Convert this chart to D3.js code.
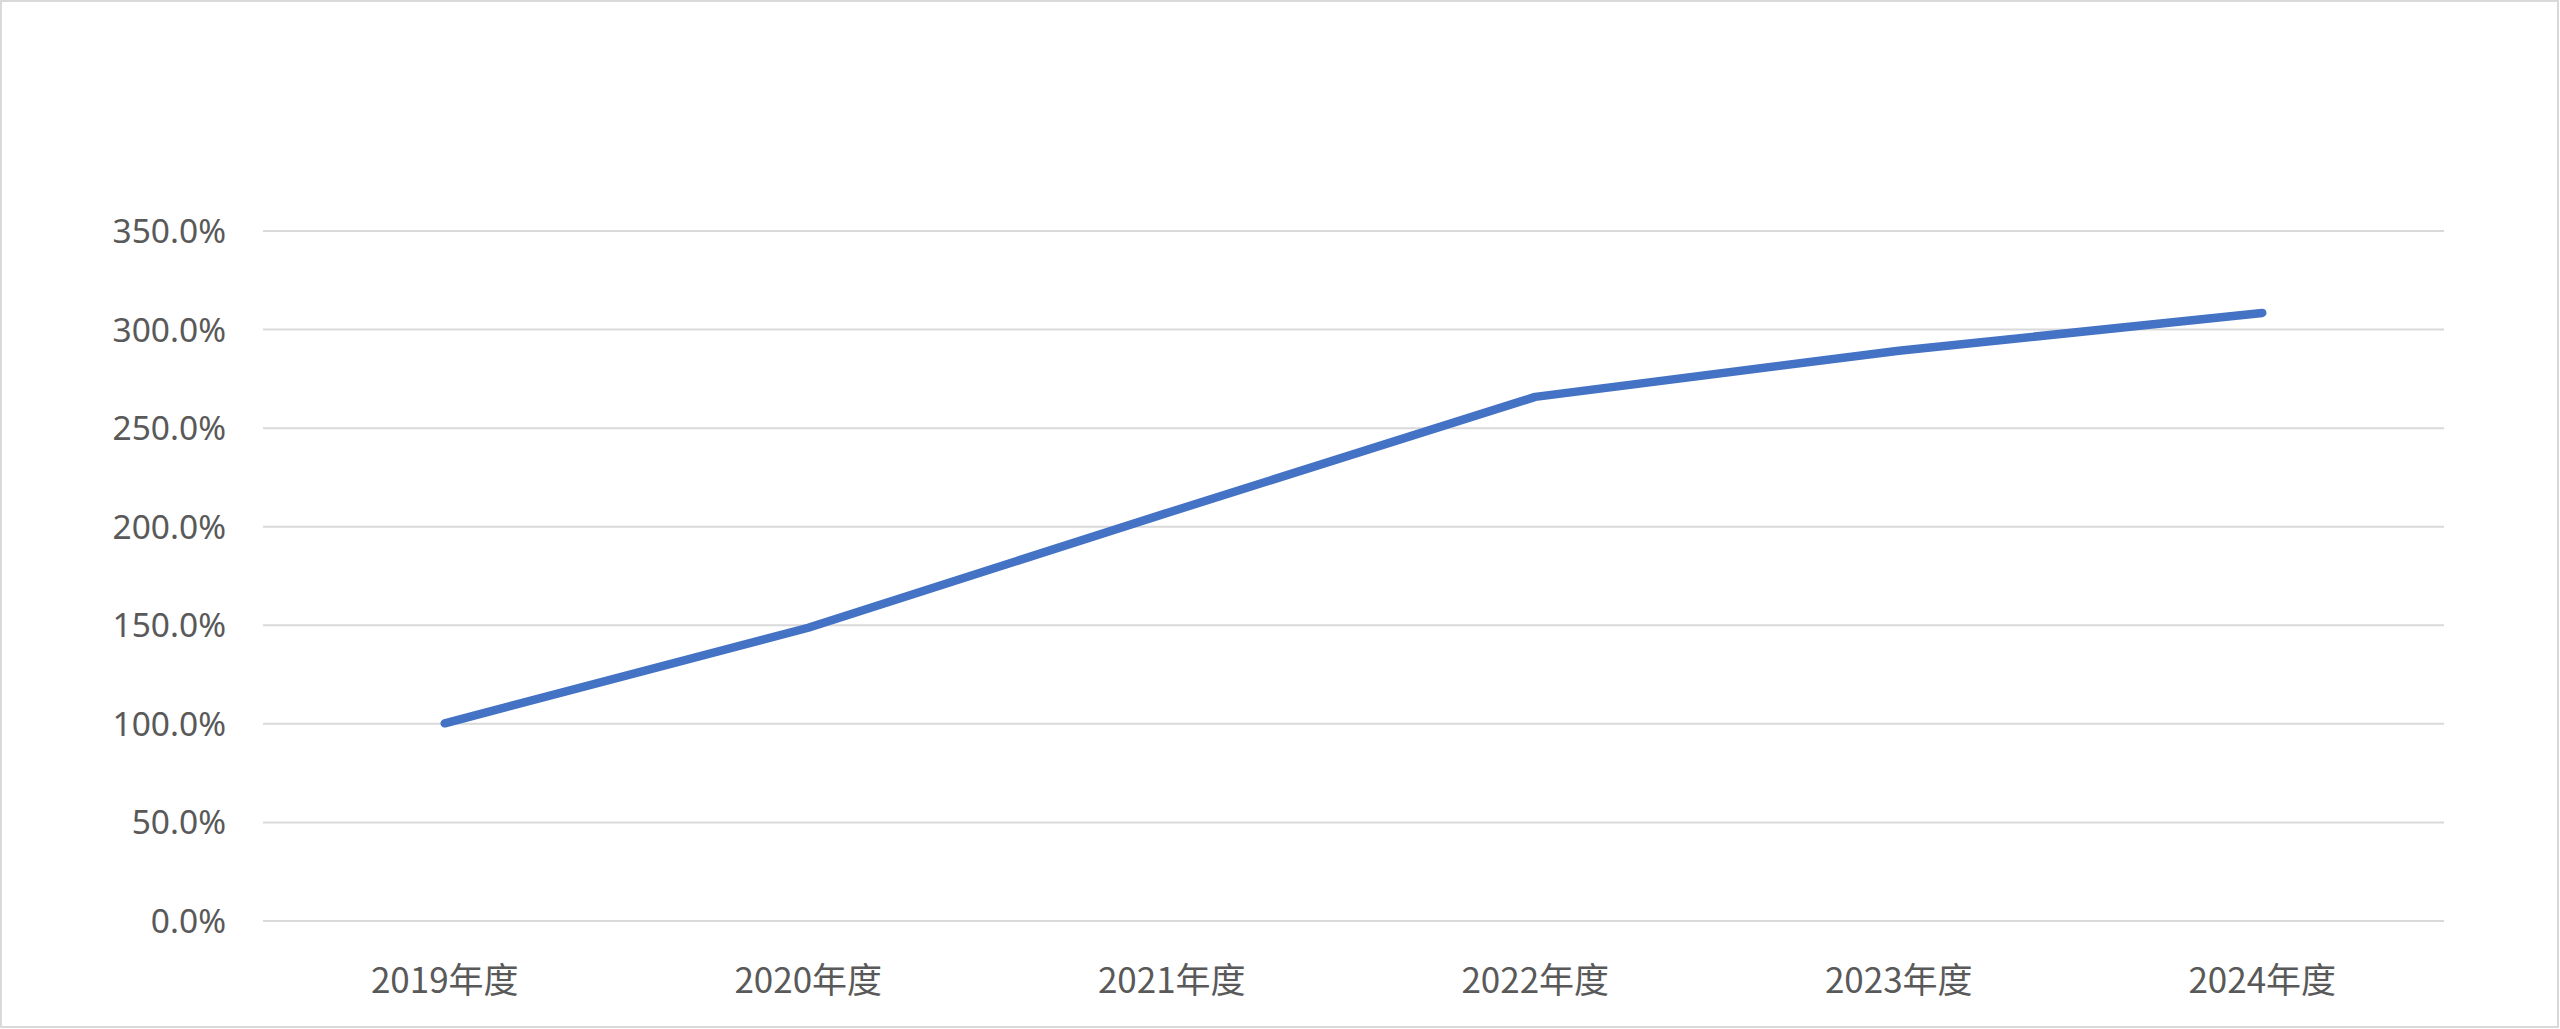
<!DOCTYPE html>
<html><head><meta charset="utf-8">
<script src="https://cdn.jsdelivr.net/npm/d3@7"></script>
<style>
html,body{margin:0;padding:0;background:#fff;overflow:hidden;}
</style></head>
<body>
<svg id="chart" width="2560" height="1029"></svg>
<script>
const categories = ["2019年度","2020年度","2021年度","2022年度","2023年度","2024年度"];
const values = [100.0, 148.5, 207.5, 265.6, 289.0, 308.2];
const yTicks = [0, 50, 100, 150, 200, 250, 300, 350];

const W = 2560, H = 1029;
const svg = d3.select("#chart");
const plot = {left: 263, right: 2444, top: 230.5, bottom: 920.5};

svg.append("rect").attr("x",1).attr("y",1).attr("width",W-3).attr("height",H-3)
  .attr("fill","#fff").attr("stroke","#d9d9d9").attr("stroke-width",2);

const x = d3.scaleBand().domain(categories).range([plot.left, plot.right]).padding(0);
const y = d3.scaleLinear().domain([0,350]).range([plot.bottom, plot.top]);

const yAxis = d3.axisLeft(y).tickValues(yTicks).tickSize(-(plot.right-plot.left))
  .tickFormat(d => d3.format(".1f")(d) + "%").tickPadding(37);
const gy = svg.append("g").attr("transform",`translate(${plot.left},0)`).call(yAxis);
gy.select(".domain").remove();
gy.selectAll(".tick line").attr("stroke","#d9d9d9").attr("stroke-width",2);
gy.selectAll(".tick text").attr("fill","#595959")
  .style("font-family","'Noto Sans', sans-serif").style("font-size","33.5px")
  .attr("dy","0.36em");

const xAxis = d3.axisBottom(x).tickSize(0).tickPadding(0);
const gx = svg.append("g").attr("transform",`translate(0,${plot.bottom})`).call(xAxis);
gx.select(".domain").remove();
gx.selectAll(".tick text").attr("fill","#595959")
  .style("font-family","'Noto Sans CJK SC', 'Noto Sans', sans-serif").style("font-size","35px")
  .attr("dy",0).attr("y",72);

const line = d3.line().x((d,i)=>x(categories[i]) + x.bandwidth()/2).y(d=>y(d));
svg.append("path").datum(values).attr("d",line)
  .attr("fill","none").attr("stroke","#4472C4").attr("stroke-width",8.5)
  .attr("stroke-linecap","round").attr("stroke-linejoin","round");
</script>
</body></html>
